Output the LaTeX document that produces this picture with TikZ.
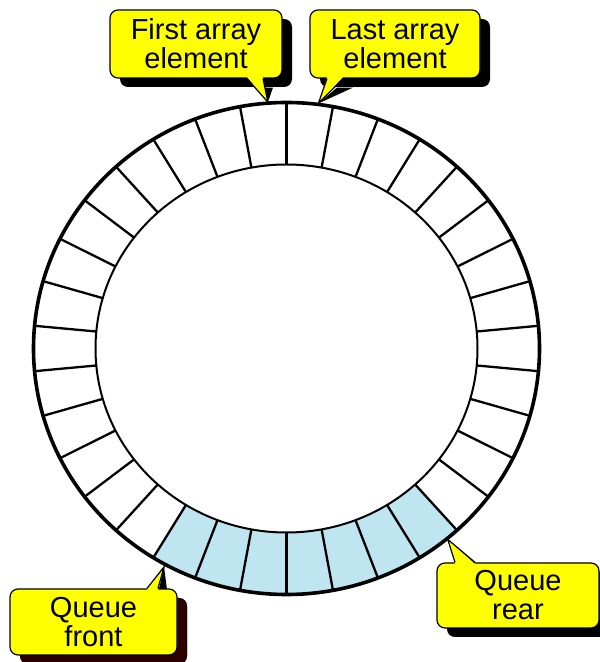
\documentclass[tikz,border=0pt]{standalone}
\usepackage{fontspec}
\setmainfont{Liberation Sans}
\usepackage{tikz}
\usetikzlibrary{calc,shadows,backgrounds}
\definecolor{callout}{RGB}{255,255,0}
\definecolor{cellblue}{RGB}{190,229,240}
\definecolor{darkshadow}{RGB}{45,0,0}
\tikzset{
calloutbox/.style={rectangle,rounded corners=8pt,
draw=black,line width=1.2pt,fill=callout,inner sep=0pt,
align=center,font=\fontsize{29}{29}\selectfont,
drop shadow={shadow xshift=10pt,shadow yshift=-9pt,fill=black,opacity=1}},
spoke/.style={line width=2.3pt},
pointer/.style={draw=black,line width=1.2pt}
}

\begin{document}
\begin{tikzpicture}[x=1pt,y=1pt]
\useasboundingbox (0,0) rectangle (600,662);

		% the ring of array cells
		\begin{scope}[shift={(286.5,313.5)}]
		\fill[cellblue] (238.235:253 and 246)
		arc[start angle=238.235,end angle=312.353,x radius=253,y radius=246]
		-- (312.353:191 and 184)
		arc[start angle=312.353,end angle=238.235,x radius=191,y radius=184] -- cycle;
		\foreach \k [evaluate=\k as \a using 90+\k*360/34] in {0,...,33}
		\draw[spoke] (\a:191 and 184) -- (\a:253 and 246);
		\draw[line width=3.6pt] (0,0) ellipse [x radius=253,y radius=246];
		\draw[line width=2pt] (0,0) ellipse [x radius=191,y radius=184];
		\coordinate (T1) at (94.2:254 and 247);
		\coordinate (T2) at (82.8:254 and 247);
		\coordinate (T3) at (241.3:255 and 249);
		\coordinate (T4) at (309.4:254 and 247);
		\end{scope}

		\node[calloutbox,minimum width=172,minimum height=68] (first) at (196,618) {First array\\element};
		\node[calloutbox,minimum width=170,minimum height=68] (last) at (395,618) {Last array\\element};
		\node[calloutbox,minimum width=167,minimum height=66,
		drop shadow={shadow xshift=10pt,shadow yshift=-9pt,fill=darkshadow,opacity=1}] (front) at (93.5,40) {Queue\\front};
		\node[calloutbox,minimum width=162,minimum height=65] (rear) at (518,66.5) {Queue\\rear};

		\begin{scope}[on background layer]
		\fill[black] ($(first.south)+(61,-9)$) -- (T1) -- ($(first.south)+(77,-9)$) -- cycle;
		\fill[black] ($(last.south)+(-58,-9)$) -- (T2) -- ($(last.south)+(-42,-9)$) -- cycle;
		\fill[black] ($(front.north)+(63.5,-9)$) -- (T3) -- ($(front.north)+(74.5,-9)$) -- cycle;
		\fill[black] ($(rear.north)+(-53,-9)$) -- (T4) -- ($(rear.north)+(-33,-9)$) -- cycle;
		\end{scope}

		% pointers
		\fill[callout] ($(first.south)+(51,1.5)$) -- (T1) -- ($(first.south)+(67,1.5)$) -- cycle;
		\draw[pointer] ($(first.south)+(51,0)$) -- (T1) -- ($(first.south)+(67,0)$);
		\fill[callout] ($(last.south)+(-68,1.5)$) -- (T2) -- ($(last.south)+(-52,1.5)$) -- cycle;
		\draw[pointer] ($(last.south)+(-68,0)$) -- (T2) -- ($(last.south)+(-52,0)$);
		\fill[callout] ($(front.north)+(53.5,-1.5)$) -- (T3) -- ($(front.north)+(64.5,-1.5)$) -- cycle;
		\draw[pointer] ($(front.north)+(53.5,0)$) -- (T3) -- ($(front.north)+(64.5,0)$);
		\fill[callout] ($(rear.north)+(-63,-1.5)$) -- (T4) -- ($(rear.north)+(-43,-1.5)$) -- cycle;
		\draw[pointer] ($(rear.north)+(-63,0)$) -- (T4) -- ($(rear.north)+(-43,0)$);

	\end{tikzpicture}
\end{document}
